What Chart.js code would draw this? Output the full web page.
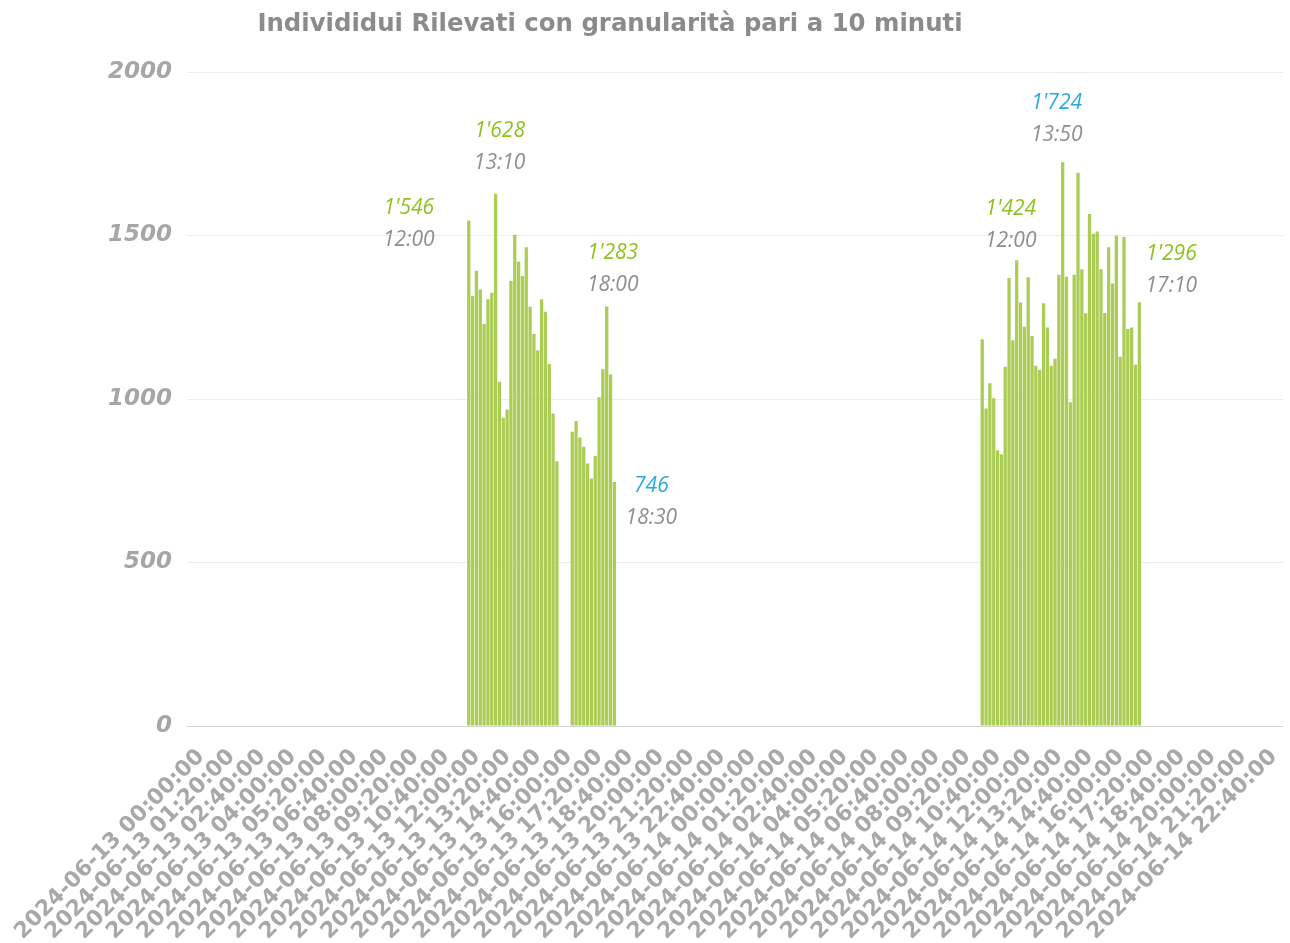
<!DOCTYPE html>
<html lang="it">
<head>
    <meta charset="UTF-8">
    <title>Individui Rilevati</title>
    <script src="https://cdn.jsdelivr.net/npm/chart.js"></script>
    <style>
        html, body { margin: 0; padding: 0; background: #ffffff; }
        .chart-box { width: 1290px; height: 943px; }
    </style>
</head>
<body>
    <div class="chart-box">
        <canvas id="peopleChart"></canvas>
    </div>

    <script>
        // data
        const chartTitle = 'Individidui Rilevati con granularità pari a 10 minuti';
        const days = ['2024-06-13', '2024-06-14'];
        const lastSlot = '23:20';           // the axis stops here
        const day1Start = '2024-06-13 12:00:00';
        const day1Values = [1546, 1315, 1392, 1335, 1229, 1305, 1325, 1628, 1053, 943,
                            968, 1361, 1502, 1420, 1376, 1464, 1282, 1199, 1148, 1305,
                            1267, 1107, 956, 810, null, null, null, 900, 933, 882,
                            854, 803, 757, 826, 1005, 1091, 1283, 1075, 746];
        const day2Start = '2024-06-14 10:20:00';
        const day2Values = [1183, 971, 1048, 1002, 843, 831, 1099, 1370, 1180, 1424,
                            1295, 1221, 1372, 1193, 1102, 1089, 1293, 1219, 1102, 1123,
                            1380, 1724, 1374, 990, 1380, 1692, 1397, 1262, 1566, 1505,
                            1512, 1397, 1263, 1464, 1353, 1500, 1129, 1496, 1214, 1219,
                            1105, 1296];
        const yTicks = [0, 500, 1000, 1500, 2000];

        // labelled bars: which slot, and the time written under the value
        const callouts = [
            { at: '2024-06-13 12:00:00', time: '12:00' },
            { at: '2024-06-13 13:10:00', time: '13:10' },
            { at: '2024-06-13 18:00:00', time: '18:00' },
            { at: '2024-06-13 18:20:00', time: '18:30' },
            { at: '2024-06-14 11:50:00', time: '12:00' },
            { at: '2024-06-14 13:50:00', time: '13:50' },
            { at: '2024-06-14 17:10:00', time: '17:10' }
        ];
        // colour + offset (px) of each callout from the top of its bar
        const calloutStyle = [
            { color: '#8dc21f', dx: -60, dy: -12 },
            { color: '#8dc21f', dx: 4, dy: -63 },
            { color: '#8dc21f', dx: 6, dy: -53 },
            { color: '#29a9e0', dx: 37, dy: 4 },
            { color: '#8dc21f', dx: -6, dy: -51 },
            { color: '#29a9e0', dx: -6, dy: -59 },
            { color: '#8dc21f', dx: 32, dy: -48 }
        ];

        // every 10 minute slot of the two days
        const pad = n => String(n).padStart(2, '0');
        const slots = [];
        days.forEach((d, di) => {
            for (let m = 0; m < 24 * 60; m += 10) {
                const hm = pad(Math.floor(m / 60)) + ':' + pad(m % 60);
                slots.push(d + ' ' + hm + ':00');
                if (di === days.length - 1 && hm === lastSlot) break;
            }
        });

        const counts = slots.map(() => null);
        [[day1Start, day1Values], [day2Start, day2Values]].forEach(([start, vals]) => {
            const i0 = slots.indexOf(start);
            vals.forEach((v, k) => { counts[i0 + k] = v; });
        });

        const fmt = v => String(v).replace(/\B(?=(\d{3})+(?!\d))/g, "'");

        const titlePlugin = {
            id: 'sideTitle',
            afterDraw(chart) {
                const ctx = chart.ctx;
                ctx.save();
                ctx.font = 'bold 24.4px "DejaVu Sans"';
                ctx.fillStyle = '#8b8b8b';
                ctx.textAlign = 'center';
                ctx.textBaseline = 'middle';
                ctx.fillText(chartTitle, 610, 25);
                ctx.restore();
            }
        };

        const calloutPlugin = {
            id: 'callouts',
            afterDatasetsDraw(chart) {
                const ctx = chart.ctx;
                const xs = chart.scales.x, ys = chart.scales.y;
                ctx.save();
                ctx.textAlign = 'center';
                ctx.textBaseline = 'middle';
                callouts.forEach((c, i) => {
                    const idx = slots.indexOf(c.at);
                    const st = calloutStyle[i];
                    const x = xs.getPixelForValue(idx) + st.dx;
                    const y = ys.getPixelForValue(counts[idx]) + st.dy;
                    ctx.font = 'italic 21px "Open Sans"';
                    ctx.fillStyle = st.color;
                    ctx.fillText(fmt(counts[idx]), x, y);
                    ctx.fillStyle = '#8e8e8e';
                    ctx.fillText(c.time, x, y + 32);
                });
                ctx.restore();
            }
        };

        new Chart(document.getElementById('peopleChart').getContext('2d'), {
            type: 'bar',
            data: {
                labels: slots,
                datasets: [{
                    label: 'Individui',
                    data: counts,
                    backgroundColor: '#abcd55',
                    barPercentage: 0.86,
                    categoryPercentage: 1
                }]
            },
            options: {
                responsive: true,
                maintainAspectRatio: false,
                animation: false,
                layout: { padding: { top: 72, right: 7, left: 0, bottom: 0 } },
                plugins: {
                    legend: { display: false },
                    tooltip: { enabled: false }
                },
                scales: {
                    x: {
                        grid: { display: false, drawTicks: false },
                        border: { display: false },
                        afterFit: s => {
                            s.height = 217;
                            s.paddingLeft = 0;
                            s.paddingRight = 0;
                        },
                        ticks: {
                            autoSkip: false,
                            minRotation: 45,
                            maxRotation: 45,
                            padding: 18,
                            labelOffset: 8,
                            color: '#a8a8a8',
                            font: { family: 'DejaVu Sans', size: 22, weight: 'bold' },
                            callback: (v, i) => (i % 8 === 0 ? slots[i] : '')
                        }
                    },
                    y: {
                        min: 0,
                        max: 2000,
                        afterFit: s => { s.width = 191; },
                        afterBuildTicks: s => { s.ticks = yTicks.map(v => ({ value: v })); },
                        border: { display: false },
                        grid: {
                            color: c => (c.tick && c.tick.value === 0 ? '#d3d3d3' : '#ececec'),
                            tickLength: 4
                        },
                        ticks: {
                            padding: 15,
                            color: '#a6a6a6',
                            font: { family: 'DejaVu Sans', size: 23, weight: 'bold', style: 'italic' },
                            callback: v => String(v)
                        }
                    }
                }
            },
            plugins: [titlePlugin, calloutPlugin]
        });
    </script>
</body>
</html>
